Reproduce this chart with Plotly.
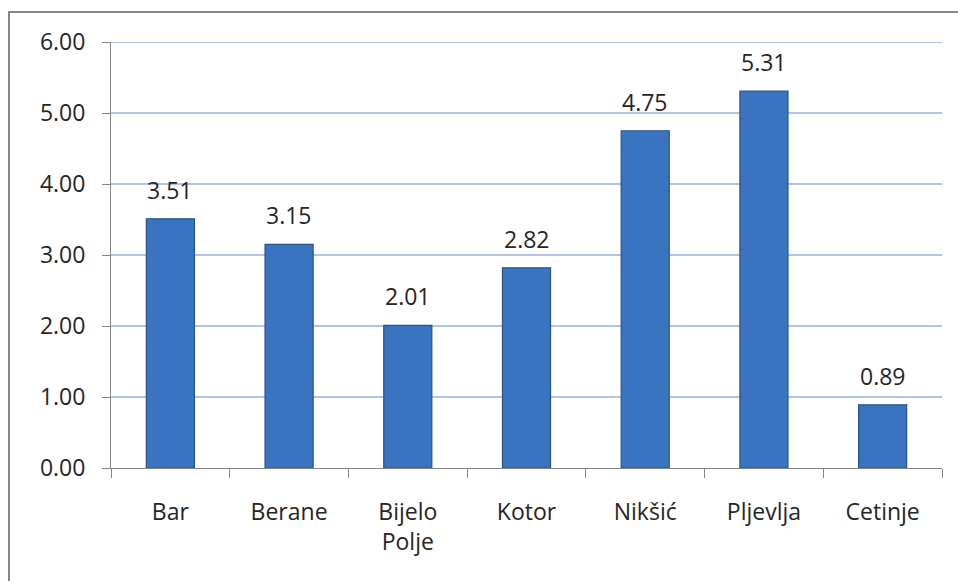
import plotly.graph_objects as go

categories = ["Bar", "Berane", "Bijelo<br>Polje", "Kotor", "Nikšić", "Pljevlja", "Cetinje"]
values = [3.51, 3.15, 2.01, 2.82, 4.75, 5.31, 0.89]
y_ticks = [0, 1, 2, 3, 4, 5, 6]
y_tick_labels = ["0.00", "1.00", "2.00", "3.00", "4.00", "5.00", "6.00"]

FONT = "Open Sans"
TXT = "#262626"
FS = 23
GRID = "#aec4e8"

fig = go.Figure()
fig.add_trace(go.Bar(
    x=categories, y=values,
    marker=dict(color="#3a74c0", line=dict(color="#28548c", width=1.2)),
    hoverinfo="skip",
))

for c, v in zip(categories, values):
    fig.add_annotation(x=c, y=v, text=f"{v:.2f}", showarrow=False,
                       yanchor="bottom", yshift=11,
                       font=dict(family=FONT, size=FS, color=TXT))

# top gridline (at the edge of the range)
fig.add_shape(type="line", xref="paper", yref="y", x0=0, x1=1,
              y0=y_ticks[-1], y1=y_ticks[-1],
              line=dict(color=GRID, width=2), layer="below")

W, H = 958, 581
ml, mr, mt, mb = 111, 16, 42, 113
pw, ph = W - ml - mr, H - mt - mb

# outer chart frame (left and top edges visible)
fig.add_shape(type="rect", xref="paper", yref="paper",
              x0=(9 - ml) / pw, x1=(W + 20 - ml) / pw,
              y0=-(H + 20 - (H - mb)) / ph, y1=1 + (mt - 12) / ph,
              line=dict(color="#868686", width=2), layer="below")

fig.update_layout(
    width=W, height=H,
    margin=dict(l=ml, r=mr, t=mt, b=mb, pad=0),
    paper_bgcolor="white", plot_bgcolor="white",
    showlegend=False,
    bargap=0.595,
    font=dict(family=FONT, size=FS, color=TXT),
    xaxis=dict(
        type="category", tickson="boundaries",
        ticks="outside", ticklen=9, tickcolor="#868686", tickwidth=1,
        showline=True, linecolor="#868686", linewidth=1,
        showgrid=False, tickfont=dict(family=FONT, size=FS, color=TXT),
        ticklabelstandoff=23,
    ),
    yaxis=dict(
        range=[0, 6], tickvals=y_ticks, ticktext=y_tick_labels,
        ticks="outside", ticklen=8, tickcolor="#868686", tickwidth=1,
        showline=True, linecolor="#868686", linewidth=1,
        showgrid=True, gridcolor=GRID, gridwidth=2,
        zeroline=False,
        tickfont=dict(family=FONT, size=FS, color=TXT),
        ticklabelstandoff=12,
    ),
)

fig.write_html("out.html")
